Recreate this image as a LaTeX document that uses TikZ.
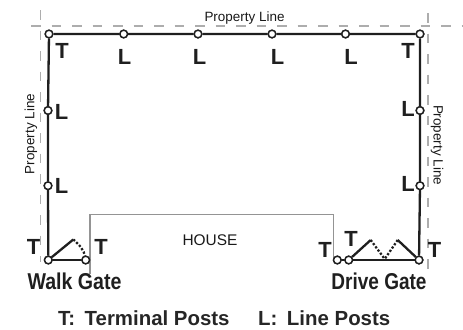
\documentclass[tikz,border=0pt]{standalone}
\usepackage{graphicx}
\usepackage{fontspec}
\setmainfont{Liberation Sans}
\tikzset{
  x=1bp,y=-1bp,
  post/.style={circle,draw=black!88,fill=white,line width=1.4bp,minimum size=7.6bp,inner sep=0pt},
  fence/.style={draw=black!88,line width=2.3bp},
  gateopen/.style={draw=black!88,line width=2.3bp,dash pattern=on 2.2bp off 1.8bp},
  propline/.style={draw=black!32,line width=1.2bp,dash pattern=on 9.5bp off 11bp},
  house/.style={draw=black!42,line width=1.05bp},
  lab/.style={font=\fontsize{13.5}{15}\selectfont,inner sep=0pt,text=black!90},
  houselabel/.style={font=\fontsize{15.5}{17}\selectfont,inner sep=0pt,text=black!90},
  big/.style={font=\fontsize{22}{24}\bfseries\selectfont,inner sep=0pt,text=black!88},
  gatelab/.style={font=\fontsize{23}{25}\bfseries\selectfont,inner sep=0pt,text=black!88},
  legend/.style={font=\fontsize{20.5}{22}\bfseries\selectfont,inner sep=0pt,text=black!85}
}
\begin{document}
\begin{tikzpicture}
\useasboundingbox (0,0) rectangle (463,329);
% property lines
\coordinate (ph1) at (31,26); \coordinate (ph2) at (463,26);
\coordinate (pl1) at (40.5,10); \coordinate (pl2) at (40.5,262);
\coordinate (pr1) at (428,13); \coordinate (pr2) at (428,271);
\draw[propline] (ph1) -- (ph2);
\draw[propline] (pl1) -- (pl2);
\draw[propline] (pr1) -- (pr2);
% house
\coordinate (h1) at (90,274); \coordinate (h2) at (90,214.7);
\coordinate (h3) at (333.3,214.7); \coordinate (h4) at (333.3,258);
\draw[house] (h1) -- (h2) -- (h3) -- (h4);
% posts
\node[post] (tl) at (49,34) {};
\node[post] (t1) at (123.7,34) {};
\node[post] (t2) at (198,34) {};
\node[post] (t3) at (272,34) {};
\node[post] (t4) at (345.5,34) {};
\node[post] (tr) at (420,34) {};
\node[post] (l1) at (48,110.5) {};
\node[post] (l2) at (48,185.7) {};
\node[post] (bl) at (48.3,260) {};
\node[post] (r1) at (420,110.5) {};
\node[post] (r2) at (420,185.7) {};
\node[post] (br) at (419,260) {};
\node[post] (wg) at (85.7,260) {};
\node[post] (dh) at (337.3,260) {};
\node[post] (dg) at (348.7,260) {};
\coordinate (wa) at (73.3,239.5);
\coordinate (da) at (370.7,240);
\coordinate (dm) at (384.7,259);
\coordinate (db) at (397.7,240);
% fence
\draw[fence] (bl) -- (l2) -- (l1) -- (tl) -- (t1) -- (t2) -- (t3) -- (t4) -- (tr) -- (r1) -- (r2) -- (br);
\draw[fence] (bl) -- (wg);
\draw[fence] (bl) -- (wa);
\draw[gateopen] (wa) .. controls (80,245) and (84,251) .. (wg);
\draw[fence] (dg) -- (br);
\draw[fence] (dh) -- (dg);
\draw[fence] (dg) -- (da);
\draw[fence] (br) -- (db);
\draw[gateopen] (da) -- (dm);
\draw[gateopen] (db) -- (dm);
\foreach \n in {tl,t1,t2,t3,t4,tr,l1,l2,bl,r1,r2,br,wg,dh,dg}{
  \node[post] at (\n) {};
}
% labels
\node[lab] (ptop) at (244.5,18.5) {Property Line};
\node[lab,rotate=90] (pleft) at (31,134) {Property Line};
\node[lab,rotate=-90] (pright) at (437,145) {Property Line};
\node[houselabel] (houselab) at (210,240) {HOUSE};
\node[big] (lt1) at (62,51) {T};
\node[big] (lt2) at (124.5,56.5) {L};
\node[big] (lt3) at (199.5,56.5) {L};
\node[big] (lt4) at (277.5,56.5) {L};
\node[big] (lt5) at (351,56.5) {L};
\node[big] (lt6) at (408,50.5) {T};
\node[big] (ll1) at (61.5,111.5) {L};
\node[big] (ll2) at (61.5,186) {L};
\node[big] (lr1) at (408,108.5) {L};
\node[big] (lr2) at (408,183.5) {L};
\node[big] (tb1) at (33.5,246.5) {T};
\node[big] (tb2) at (101,246.5) {T};
\node[big] (tb3) at (325,249.5) {T};
\node[big] (tb4) at (351,238.5) {T};
\node[big] (tb5) at (434.5,249.5) {T};
\node[gatelab] (wl) at (74.5,281) {\scalebox{0.855}[1]{Walk Gate}};
\node[gatelab] (dl) at (379,281) {\scalebox{0.83}[1]{Drive Gate}};
\node[legend,anchor=west] (leg1) at (58,318) {T:\hspace{9.5bp}Terminal Posts};
\node[legend,anchor=west] (leg2) at (258,318) {L:\hspace{9.5bp}Line Posts};
\end{tikzpicture}
\end{document}
